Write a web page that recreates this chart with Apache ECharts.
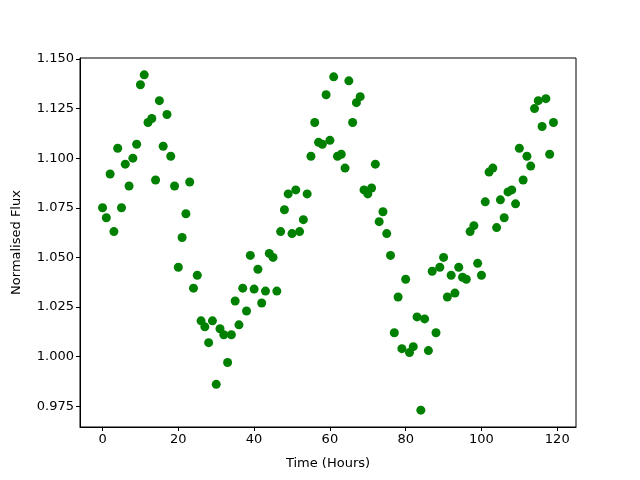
<!DOCTYPE html>
<html>
<head>
<meta charset="utf-8">
<script src="https://cdn.jsdelivr.net/npm/echarts@6/dist/echarts.min.js"></script>
<style>
  html, body { margin: 0; padding: 0; background: #fff; }
  #main { width: 640px; height: 480px; }
</style>
</head>
<body>
<div id="main"></div>
<script>
// flux readings, one per hour (x = 0..119)
const flux = [
  1.075, 1.070, 1.092, 1.063, 1.105, 1.075, 1.097, 1.086, 1.100, 1.107,
  1.137, 1.142, 1.118, 1.120, 1.089, 1.129, 1.106, 1.122, 1.101, 1.086,
  1.045, 1.060, 1.072, 1.088, 1.0345, 1.041, 1.018, 1.015, 1.007, 1.018,
  0.986, 1.014, 1.011, 0.997, 1.011, 1.028, 1.016, 1.0345, 1.023, 1.051,
  1.034, 1.044, 1.027, 1.033, 1.052, 1.050, 1.033, 1.063, 1.074, 1.082,
  1.062, 1.084, 1.063, 1.069, 1.082, 1.101, 1.118, 1.108, 1.107, 1.132,
  1.109, 1.141, 1.101, 1.102, 1.095, 1.139, 1.118, 1.128, 1.131, 1.084,
  1.082, 1.085, 1.097, 1.068, 1.073, 1.062, 1.051, 1.012, 1.030, 1.004,
  1.039, 1.002, 1.005, 1.020, 0.973, 1.019, 1.003, 1.043, 1.012, 1.045,
  1.050, 1.030, 1.041, 1.032, 1.045, 1.040, 1.039, 1.063, 1.066, 1.047,
  1.041, 1.078, 1.093, 1.095, 1.065, 1.079, 1.070, 1.083, 1.084, 1.077,
  1.105, 1.089, 1.101, 1.096, 1.125, 1.129, 1.116, 1.130, 1.102, 1.118
];
const hours = flux.map((v, i) => i);
const xTicks = [0, 20, 40, 60, 80, 100, 120];
const yTicks = [0.975, 1.000, 1.025, 1.050, 1.075, 1.100, 1.125, 1.150];

const points = hours.map((h, i) => [h, flux[i]]);

const chart = echarts.init(document.getElementById("main"));

const font = "DejaVu Sans";

const options = {
  animation: false,
  textStyle: { fontFamily: font },
  grid: {
    left: 80,
    right: 64,
    top: 58,
    bottom: 53,
    show: true,
    borderColor: "#000",
    borderWidth: 1,
  },
  xAxis: {
    type: "value",
    min: -5.95,
    max: 124.95,
    name: "Time (Hours)",
    nameLocation: "middle",
    nameGap: 30,
    nameTextStyle: { color: "#000", fontSize: 13, fontFamily: font },
    splitLine: { show: false },
    axisLine: { show: true, onZero: false, lineStyle: { color: "#000" } },
    axisTick: {
      show: true,
      length: 4,
      customValues: xTicks,
      lineStyle: { color: "#000" },
    },
    axisLabel: {
      customValues: xTicks,
      margin: 6,
      color: "#000",
      fontSize: 13,
      fontFamily: font,
    },
  },
  yAxis: {
    type: "value",
    min: 0.9645,
    max: 1.1505,
    name: "Normalised Flux",
    nameLocation: "middle",
    nameGap: 57,
    nameTextStyle: { color: "#000", fontSize: 13, fontFamily: font },
    splitLine: { show: false },
    axisLine: { show: true, onZero: false, lineStyle: { color: "#000" } },
    axisTick: {
      show: true,
      length: 4,
      customValues: yTicks,
      lineStyle: { color: "#000" },
    },
    axisLabel: {
      customValues: yTicks,
      margin: 6,
      color: "#000",
      fontSize: 13,
      fontFamily: font,
      formatter: (v) => v.toFixed(3),
    },
  },
  series: [
    {
      type: "scatter",
      data: points,
      symbol: "circle",
      symbolSize: 9,
      itemStyle: { color: "#008000", opacity: 1 },
    },
  ],
};

chart.setOption(options);
</script>
</body>
</html>
